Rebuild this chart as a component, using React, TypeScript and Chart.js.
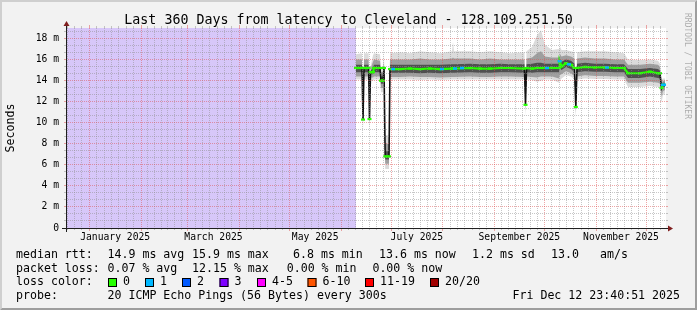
import { useEffect, useRef } from 'react';
import { Chart, registerables } from 'chart.js';

Chart.register(...registerables);

// ---------------- data ----------------
const TITLE = 'Last 360 Days from latency to Cleveland - 128.109.251.50';
const Y_UNIT_LABEL = 'Seconds';
const WATERMARK = 'RRDTOOL / TOBI OETIKER';

const X_MAX_DAYS = 360; // days since Dec 17 2024 23:40
const Y_MAX_MS = 19;

const monthStartDays = [14, 45, 73, 104, 134, 165, 195, 226, 257, 287, 318, 348];
const prevMonthStartDay = -17;
const nextMonthStartDay = 379;
const monthLabelDays = [29.5, 88.5, 149.5, 210.5, 272, 333];
const monthLabels = ['January 2025', 'March 2025', 'May 2025', 'July 2025', 'September 2025', 'November 2025'];

const yMajorValues = [0, 2, 4, 6, 8, 10, 12, 14, 16, 18];
const yMajorLabels = ['0', '2 m', '4 m', '6 m', '8 m', '10 m', '12 m', '14 m', '16 m', '18 m'];

const unknownDays = [0, 174];

const sampleDays = [174.0, 177.6, 178.2, 178.8, 181.6, 182.1, 182.7, 184.2, 184.8, 188.4, 189.0, 190.2, 190.8, 191.5, 193.8, 194.4, 200.4, 206.4, 212.4, 218.4, 224.4, 231.6, 232.2, 232.8, 242.4, 248.4, 254.4, 260.4, 266.4, 275.1, 275.7, 276.3, 279.6, 282.6, 285.0, 287.4, 291.6, 295.8, 296.2, 297.3, 300.0, 303.0, 305.1, 305.9, 306.6, 311.4, 317.4, 323.4, 329.4, 334.8, 337.2, 344.4, 350.4, 355.2, 356.4, 357.3, 358.2, 359.4];
const medianMs = [15.2, 15.2, 10.3, 15.2, 15.2, 10.35, 14.8, 14.8, 15.2, 15.2, 14.0, 14.0, 15.2, 6.8, 6.8, 15.1, 15.1, 15.15, 15.1, 15.15, 15.1, 15.15, 15.15, 15.15, 15.2, 15.15, 15.15, 15.2, 15.2, 15.15, 11.7, 15.2, 15.15, 15.2, 15.2, 15.2, 15.2, 15.2, 15.85, 15.35, 15.65, 15.5, 15.2, 11.5, 15.2, 15.3, 15.25, 15.25, 15.2, 15.2, 14.7, 14.7, 14.85, 14.7, 14.7, 13.3, 13.6, 13.6];
const smokeTop = [16.5, 16.6, 11.0, 16.6, 16.6, 11.0, 15.3, 16.4, 16.6, 16.5, 15.2, 15.2, 16.5, 8.8, 8.8, 16.6, 16.7, 16.6, 16.8, 16.7, 16.6, 16.8, 17.7, 16.8, 16.8, 16.7, 16.8, 16.7, 16.6, 16.7, 12.4, 16.8, 17.2, 18.3, 18.8, 17.4, 16.9, 17.0, 17.3, 16.9, 16.9, 16.8, 16.7, 12.2, 16.7, 16.8, 16.8, 16.8, 16.7, 16.6, 16.0, 15.95, 16.0, 15.9, 15.6, 14.1, 14.2, 14.2];
const smokeUpperMid = [16.0, 16.0, 10.8, 16.0, 16.0, 10.8, 15.1, 15.8, 16.0, 15.9, 14.8, 14.8, 15.9, 8.0, 8.0, 16.0, 16.0, 16.0, 16.1, 16.0, 16.0, 16.1, 16.2, 16.1, 16.1, 16.0, 16.1, 16.0, 16.0, 16.0, 12.2, 16.1, 16.2, 16.6, 16.8, 16.3, 16.2, 16.2, 16.6, 16.3, 16.4, 16.3, 16.1, 12.0, 16.1, 16.2, 16.1, 16.1, 16.0, 16.0, 15.5, 15.5, 15.6, 15.5, 15.3, 13.8, 14.0, 14.0];
const smokeUpperInner = [15.5, 15.5, 10.5, 15.5, 15.5, 10.55, 14.95, 15.2, 15.5, 15.5, 14.4, 14.4, 15.5, 7.3, 7.3, 15.5, 15.5, 15.5, 15.5, 15.5, 15.5, 15.55, 15.55, 15.55, 15.6, 15.55, 15.55, 15.6, 15.55, 15.55, 11.9, 15.55, 15.6, 15.7, 15.7, 15.6, 15.6, 15.6, 16.1, 15.8, 16.0, 15.9, 15.6, 11.7, 15.6, 15.7, 15.6, 15.6, 15.55, 15.55, 15.1, 15.1, 15.2, 15.1, 14.95, 13.5, 13.8, 13.8];
const smokeLowerInner = [14.8, 14.8, 10.0, 14.8, 14.8, 10.05, 14.6, 14.6, 14.8, 14.8, 13.7, 13.7, 14.8, 6.5, 6.5, 14.75, 14.75, 14.75, 14.7, 14.75, 14.7, 14.75, 14.75, 14.75, 14.8, 14.75, 14.75, 14.8, 14.8, 14.75, 11.4, 14.8, 14.75, 14.8, 14.8, 14.8, 14.8, 14.8, 15.2, 15.0, 15.3, 15.1, 14.8, 11.2, 14.8, 14.9, 14.85, 14.85, 14.8, 14.8, 14.25, 14.25, 14.4, 14.25, 14.2, 13.0, 13.4, 13.4];
const smokeLowerMid = [14.4, 14.4, 9.7, 14.4, 14.4, 9.7, 14.3, 14.3, 14.4, 14.4, 13.3, 13.3, 14.4, 6.1, 6.1, 14.35, 14.35, 14.4, 14.35, 14.35, 14.3, 14.35, 14.35, 14.35, 14.4, 14.35, 14.35, 14.4, 14.4, 14.35, 11.1, 14.4, 14.35, 14.3, 14.4, 14.4, 14.4, 14.2, 14.5, 14.6, 14.9, 14.7, 14.4, 10.9, 14.4, 14.5, 14.45, 14.45, 14.4, 14.4, 13.8, 13.8, 13.9, 13.8, 13.7, 12.5, 13.0, 13.1];
const smokeBottom = [14.1, 14.1, 9.3, 14.1, 14.1, 9.3, 14.0, 14.0, 14.1, 14.1, 12.9, 12.9, 14.1, 5.6, 5.6, 14.1, 14.1, 14.1, 14.05, 14.1, 14.05, 14.1, 14.1, 14.1, 14.1, 14.1, 14.1, 14.1, 14.1, 14.1, 10.6, 14.1, 14.05, 13.9, 14.0, 14.1, 14.1, 13.8, 14.0, 14.2, 14.5, 14.4, 14.1, 10.4, 14.1, 14.2, 14.15, 14.15, 14.1, 14.1, 13.4, 13.4, 13.5, 13.4, 13.3, 11.9, 12.6, 12.8];

const loss1Days = [196.2, 225.6, 233.4, 237.6, 288.6, 296.2, 301.8, 324.6, 358.2, 359.4];
const loss1Ms = [15.1, 15.1, 15.15, 15.2, 15.2, 15.85, 15.55, 15.25, 13.6, 13.6];

const rttLegend = ['median rtt:', '14.9 ms avg', '15.9 ms max', '6.8 ms min', '13.6 ms now', '1.2 ms sd', '13.0', 'am/s'];
const lossLegend = ['packet loss:', '0.07 % avg', '12.15 % max', '0.00 % min', '0.00 % now'];
const lossColorTitle = 'loss color:';
const lossColorLabels = ['0', '1', '2', '3', '4-5', '6-10', '11-19', '20/20'];
const lossColors = ['#26ff00', '#00b8ff', '#0059ff', '#7e00ff', '#ff00ff', '#ff5500', '#ff0000', '#a10000'];
const probeLegend = ['probe:', '20 ICMP Echo Pings (56 Bytes) every 300s'];
const timestamp = 'Fri Dec 12 23:40:51 2025';

// ---------------- layout / style ----------------
const W = 697;
const H = 310;
const FAMILY = '"DejaVu Sans Mono", "Liberation Mono", monospace';
const GRID = 'rgba(143,143,143,0.5)';
const MGRID = 'rgba(222,79,79,0.5)';
const AXIS = '#1f1f1f';
const ARROW = '#801f1f';
const UNKNOWN = '#d7c7f9';
const HIDDEN = 'rgba(0,0,0,0)';

const rttX = [16, 107.5, 192, 293, 379, 472, 551, 600];
const lossX = [16, 107.5, 192, 286.7, 372.4];
const boxX = [108, 145, 182, 219.5, 257, 307.5, 365, 430];
const probeX = [16, 107.5];
const rowY = [258, 271.5, 285, 298.5];

const xMinorDays: number[] = (() => {
  const starts = [prevMonthStartDay, ...monthStartDays, nextMonthStartDay];
  const out: number[] = [];
  for (let i = 0; i < starts.length - 1; i++) {
    const len = starts[i + 1] - starts[i];
    for (let k = 1; k < 7; k++) {
      const d = starts[i] + (len * k) / 7;
      if (d > 0 && d < X_MAX_DAYS) out.push(d);
    }
  }
  return out;
})();
const yMinorValues: number[] = (() => {
  const out: number[] = [];
  for (let k = 1; k * 2 / 3 < Y_MAX_MS; k++) if (k % 3 !== 0) out.push(k * 2 / 3);
  return out;
})();

const xAllTicks = [...monthStartDays, ...monthLabelDays, ...xMinorDays].sort((a, b) => a - b);
const yAllTicks = [...yMajorValues, ...yMinorValues].sort((a, b) => a - b);

const near = (arr: number[], v: number) => arr.findIndex((t) => Math.abs(t - v) < 1e-6);

const pts = (xs: number[], ys: number[]) => xs.map((x, i) => ({ x, y: ys[i] }));

const align = (p: number) => Math.round(p - 0.5) + 0.5;

const decorPlugin = {
  id: 'rrdDecor',
  beforeDraw(chart: any) {
    const { ctx, chartArea: a } = chart;
    ctx.save();
    ctx.fillStyle = '#f2f2f2';
    ctx.fillRect(0, 0, W, H);
    ctx.fillStyle = '#cfcfcf';
    ctx.beginPath();
    ctx.moveTo(0, H); ctx.lineTo(2, H - 2); ctx.lineTo(2, 2); ctx.lineTo(W - 2, 2); ctx.lineTo(W, 0); ctx.lineTo(0, 0);
    ctx.closePath(); ctx.fill();
    ctx.fillStyle = '#9e9e9e';
    ctx.beginPath();
    ctx.moveTo(2, H - 2); ctx.lineTo(W - 2, H - 2); ctx.lineTo(W - 2, 2); ctx.lineTo(W, 0); ctx.lineTo(W, H); ctx.lineTo(0, H);
    ctx.closePath(); ctx.fill();
    ctx.fillStyle = '#ffffff';
    ctx.fillRect(a.left, a.top, a.right - a.left, a.bottom - a.top);
    ctx.restore();
  },
  afterDraw(chart: any) {
    const { ctx, chartArea: a, scales } = chart;
    const xs = scales.x;
    const ys = scales.y;
    const seg = (x1: number, y1: number, x2: number, y2: number, c: string) => {
      ctx.strokeStyle = c;
      ctx.beginPath(); ctx.moveTo(x1, y1); ctx.lineTo(x2, y2); ctx.stroke();
    };
    ctx.save();
    ctx.lineWidth = 1;
    // edge ticks
    for (const v of xMinorDays) {
      const p = align(xs.getPixelForValue(v));
      seg(p, a.top - 2, p, a.top, GRID);
      seg(p, a.bottom, p, a.bottom + 2, GRID);
    }
    for (const v of monthStartDays) {
      const p = align(xs.getPixelForValue(v));
      seg(p, a.top - 3, p, a.top, MGRID);
      seg(p, a.bottom, p, a.bottom + 3, MGRID);
    }
    for (const v of yMinorValues) {
      const p = align(ys.getPixelForValue(v));
      seg(a.left - 2, p, a.left, p, GRID);
      seg(a.right, p, a.right + 2, p, GRID);
    }
    for (const v of yMajorValues) {
      const p = align(ys.getPixelForValue(v));
      seg(a.left - 2, p, a.left, p, MGRID);
      seg(a.right, p, a.right + 2, p, MGRID);
    }
    // axes
    const ax = a.left + 0.5;
    const ay = a.bottom + 0.5;
    seg(a.left - 4, ay, a.right + 4, ay, AXIS);
    seg(ax, a.bottom + 4, ax, a.top - 4, AXIS);
    ctx.fillStyle = ARROW;
    ctx.beginPath();
    ctx.moveTo(a.right + 2, ay - 3); ctx.lineTo(a.right + 2, ay + 3); ctx.lineTo(a.right + 7, ay);
    ctx.closePath(); ctx.fill();
    ctx.beginPath();
    ctx.moveTo(ax - 3, a.top - 2); ctx.lineTo(ax + 3, a.top - 2); ctx.lineTo(ax, a.top - 7);
    ctx.closePath(); ctx.fill();

    // title
    ctx.fillStyle = '#000';
    ctx.font = `13.3px ${FAMILY}`;
    ctx.textAlign = 'center';
    ctx.textBaseline = 'alphabetic';
    ctx.fillText(TITLE, W / 2, 24);

    // unit label
    ctx.save();
    ctx.translate(10.5, 128);
    ctx.rotate(-Math.PI / 2);
    ctx.font = `11.6px ${FAMILY}`;
    ctx.textAlign = 'center';
    ctx.textBaseline = 'middle';
    ctx.fillText(Y_UNIT_LABEL, 0, 0);
    ctx.restore();

    // watermark
    ctx.save();
    ctx.translate(687, 13);
    ctx.rotate(Math.PI / 2);
    ctx.font = `8px ${FAMILY}`;
    ctx.fillStyle = 'rgba(0,0,0,0.3)';
    ctx.textAlign = 'left';
    ctx.textBaseline = 'middle';
    ctx.fillText(WATERMARK, 0, 0);
    ctx.restore();

    // legend
    ctx.font = `11.6px ${FAMILY}`;
    ctx.textAlign = 'left';
    ctx.textBaseline = 'alphabetic';
    ctx.fillStyle = '#000';
    rttLegend.forEach((t, i) => ctx.fillText(t, rttX[i], rowY[0]));
    lossLegend.forEach((t, i) => ctx.fillText(t, lossX[i], rowY[1]));
    ctx.fillText(lossColorTitle, 16, rowY[2]);
    lossColorLabels.forEach((t, i) => {
      const bx = boxX[i];
      const by = rowY[2] - 7;
      ctx.fillStyle = lossColors[i];
      ctx.fillRect(bx, by, 9, 9);
      ctx.strokeStyle = '#000';
      ctx.strokeRect(bx + 0.5, by + 0.5, 8, 8);
      ctx.fillStyle = '#000';
      ctx.fillText(t, bx + 15, rowY[2]);
    });
    probeLegend.forEach((t, i) => ctx.fillText(t, probeX[i], rowY[3]));
    ctx.textAlign = 'right';
    ctx.fillText(timestamp, 680, rowY[3]);
    ctx.restore();
  },
};

export default function App() {
  const ref = useRef<HTMLCanvasElement>(null);
  useEffect(() => {
    const noPts = { pointRadius: 0, pointHoverRadius: 0 };
    const chart = new Chart(ref.current as HTMLCanvasElement, {
      type: 'line',
      data: {
        datasets: [
          {
            label: 'loss 1/20',
            data: pts(loss1Days, loss1Ms),
            showLine: false,
            pointStyle: 'line',
            pointRadius: 2,
            pointBorderWidth: 2.5,
            pointBorderColor: lossColors[1],
            borderColor: lossColors[1],
            backgroundColor: lossColors[1],
            order: 0,
          } as any,
          {
            label: 'median rtt',
            data: pts(sampleDays, medianMs),
            borderColor: lossColors[0],
            borderWidth: 2.2,
            pointStyle: 'line',
            pointRadius: 2,
            pointBorderWidth: 2.2,
            pointBorderColor: lossColors[0],
            fill: false,
            segment: {
              borderColor: (c: any) => (Math.abs(c.p1.parsed.y - c.p0.parsed.y) > 0.9 ? HIDDEN : lossColors[0]),
            },
            order: 1,
          } as any,
          { label: 'median outline', data: pts(sampleDays, medianMs), borderColor: '#111111', borderWidth: 1.6, fill: false, ...noPts, order: 2 },
          { label: 'smoke top', data: pts(sampleDays, smokeTop), borderColor: HIDDEN, borderWidth: 1, fill: 8, backgroundColor: 'rgba(0,0,0,0.14)', ...noPts, order: 5 },
          { label: 'smoke upper mid', data: pts(sampleDays, smokeUpperMid), borderColor: HIDDEN, borderWidth: 1, fill: 7, backgroundColor: 'rgba(0,0,0,0.27)', ...noPts, order: 4 },
          { label: 'smoke upper inner', data: pts(sampleDays, smokeUpperInner), borderColor: HIDDEN, borderWidth: 1, fill: 6, backgroundColor: 'rgba(0,0,0,0.5)', ...noPts, order: 3 },
          { label: 'smoke lower inner', data: pts(sampleDays, smokeLowerInner), borderColor: HIDDEN, borderWidth: 1, fill: false, ...noPts, order: 3 },
          { label: 'smoke lower mid', data: pts(sampleDays, smokeLowerMid), borderColor: HIDDEN, borderWidth: 1, fill: false, ...noPts, order: 4 },
          { label: 'smoke bottom', data: pts(sampleDays, smokeBottom), borderColor: HIDDEN, borderWidth: 1, fill: false, ...noPts, order: 5 },
          { label: 'unknown', data: pts(unknownDays, [Y_MAX_MS, Y_MAX_MS]), borderColor: HIDDEN, borderWidth: 1, fill: 'origin', backgroundColor: UNKNOWN, ...noPts, order: 10 },
        ],
      },
      options: {
        responsive: false,
        devicePixelRatio: 1,
        animation: false,
        events: [],
        layout: { padding: { left: 0, top: 28, right: 31, bottom: 0 } },
        plugins: { legend: { display: false }, tooltip: { enabled: false }, title: { display: false } },
        scales: {
          x: {
            type: 'linear',
            min: 0,
            max: X_MAX_DAYS,
            position: 'bottom',
            afterBuildTicks: (s: any) => { s.ticks = xAllTicks.map((v) => ({ value: v })); },
            afterFit: (s: any) => { s.height = 82; },
            ticks: {
              autoSkip: false,
              maxRotation: 0,
              minRotation: 0,
              padding: 4,
              color: '#000',
              font: { family: FAMILY, size: 9.7 },
              callback: (v: any) => { const i = near(monthLabelDays, Number(v)); return i >= 0 ? monthLabels[i] : ''; },
            },
            grid: {
              drawTicks: false,
              z: 1,
              lineWidth: 1,
              color: (c: any) => {
                const v = c.tick ? c.tick.value : -1;
                if (near(monthStartDays, v) >= 0) return MGRID;
                if (near(monthLabelDays, v) >= 0) return HIDDEN;
                return GRID;
              },
            },
            border: { display: false, dash: [1, 1] },
          },
          y: {
            type: 'linear',
            min: 0,
            max: Y_MAX_MS,
            afterBuildTicks: (s: any) => { s.ticks = yAllTicks.map((v) => ({ value: v })); },
            afterFit: (s: any) => { s.width = 66; },
            ticks: {
              autoSkip: false,
              padding: 7,
              color: '#000',
              font: { family: FAMILY, size: 9.7 },
              callback: (v: any) => { const i = near(yMajorValues, Number(v)); return i >= 0 ? yMajorLabels[i] : ''; },
            },
            grid: {
              drawTicks: false,
              z: 1,
              lineWidth: 1,
              color: (c: any) => {
                const v = c.tick ? c.tick.value : -1;
                return near(yMajorValues, v) >= 0 ? MGRID : GRID;
              },
            },
            border: { display: false, dash: [1, 1] },
          },
        },
      } as any,
      plugins: [decorPlugin],
    });
    return () => chart.destroy();
  }, []);
  return (
    <div style={{ position: 'absolute', left: 0, top: 0, width: W, height: H }}>
      <canvas ref={ref} width={W} height={H} style={{ width: W, height: H, display: 'block' }} />
    </div>
  );
}
